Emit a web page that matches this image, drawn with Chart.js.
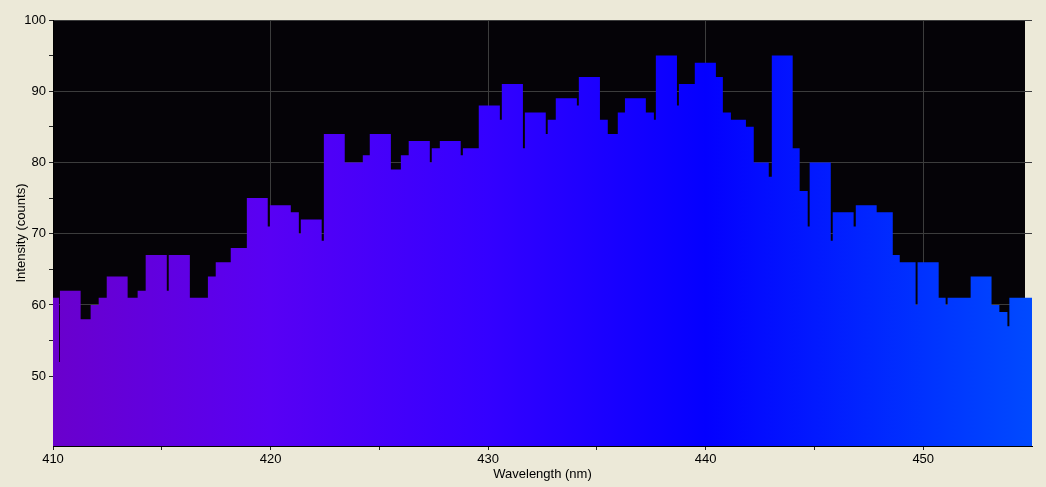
<!DOCTYPE html>
<html>
<head>
<meta charset="utf-8">
<title>Spectrum</title>
<script src="https://cdn.jsdelivr.net/npm/chart.js@4"></script>
<style>
  html, body { margin: 0; padding: 0; background: #ece9d8; }
  #wrap { width: 1046px; height: 487px; position: relative; }
</style>
</head>
<body>
<div id="wrap"><canvas id="spectrum"></canvas></div>
<script>
// step edges (nm) and the count held from each edge to the next
const wavelengths = [410.00,410.28,410.32,411.27,411.73,412.10,412.47,413.43,413.89,414.26,
  415.23,415.32,416.29,417.12,417.48,418.17,418.91,419.87,419.97,420.93,
  421.30,421.39,422.35,422.45,423.41,424.24,424.56,425.53,425.99,426.35,
  427.32,427.41,427.78,428.74,428.84,429.57,430.54,430.63,431.60,431.69,
  432.65,432.74,433.11,434.08,434.17,435.14,435.50,435.96,436.29,437.25,
  437.62,437.71,438.68,438.77,439.50,440.47,440.79,441.16,441.85,442.21,
  442.90,443.04,444.00,444.32,444.69,444.78,445.75,445.84,446.80,446.90,
  447.86,448.60,448.92,449.65,449.74,450.71,451.03,451.12,452.18,453.14,
  453.50,453.87,453.96,455.00];
const counts = [61,52,62,58,60,61,64,61,62,67,
  62,67,61,64,66,68,75,71,74,73,
  70,72,69,84,80,81,84,79,81,83,
  80,82,83,81,82,88,86,91,82,87,
  84,86,89,88,92,86,84,87,89,87,
  86,95,88,91,94,92,87,86,85,80,
  78,95,82,76,71,80,69,73,71,74,
  73,67,66,60,66,61,60,61,64,60,
  59,57,61,61];

const xTicks = [410,415,420,425,430,435,440,445,450];
const yTicks = [50,55,60,65,70,75,80,85,90,95,100];

Chart.defaults.font.family = "'Liberation Sans', Arial, sans-serif";
Chart.defaults.font.size = 13;
Chart.defaults.color = "#000";

// black plot background, stops a few px short of the right edge like the original
const plotBg = {
  id: "plotBg",
  beforeDraw(chart){
    const { ctx, chartArea: a } = chart;
    ctx.save();
    ctx.fillStyle = "#050307";
    ctx.fillRect(a.left, a.top, a.right - a.left - 7, a.bottom - a.top);
    ctx.restore();
  }
};

function spectrumFill(c){
  const { chart } = c;
  const a = chart.chartArea;
  if (!a) return "#3000ff";
  const g = chart.ctx.createLinearGradient(a.left, 0, a.right, 0);
  g.addColorStop(0.000, "rgb(106,0,204)");
  g.addColorStop(0.222, "rgb(88,0,244)");
  g.addColorStop(0.444, "rgb(52,0,255)");
  g.addColorStop(0.667, "rgb(4,0,255)");
  g.addColorStop(0.889, "rgb(0,50,255)");
  g.addColorStop(1.000, "rgb(0,74,255)");
  return g;
}

const points = wavelengths.map((w, i) => ({ x: w, y: counts[i] }));

new Chart(document.getElementById("spectrum"), {
  type: "line",
  data: {
    datasets: [{
      data: points,
      stepped: "before",
      fill: "start",
      backgroundColor: spectrumFill,
      borderColor: "transparent",
      borderWidth: 0,
      pointRadius: 0,
    }]
  },
  options: {
    responsive: true,
    maintainAspectRatio: false,
    animation: false,
    layout: { padding: { top: 20, right: 14, bottom: 0, left: 0 } },
    plugins: { legend: { display: false }, tooltip: { enabled: false } },
    scales: {
      x: {
        type: "linear",
        min: 410,
        max: 455,
        z: 1,
        afterBuildTicks: s => { s.ticks = xTicks.map(v => ({ value: v })); },
        afterFit: s => { s.height = 41; },
        ticks: {
          padding: 2,
          maxRotation: 0,
          callback: v => (v % 10 === 0 ? String(v) : "")
        },
        grid: {
          color: c => (c.tick && c.tick.value % 10 === 0 ? "#3c3c3c" : "transparent"),
          tickColor: "#222",
          tickLength: 4,
        },
        border: { color: "#000" },
        title: { display: true, text: "Wavelength (nm)", padding: { top: 0, bottom: 5 } }
      },
      y: {
        min: 40.2,
        max: 100,
        z: 1,
        afterBuildTicks: s => { s.ticks = yTicks.map(v => ({ value: v })); },
        afterFit: s => { s.width = 53; },
        ticks: {
          padding: 3,
          callback: v => (v % 10 === 0 ? String(v) : "")
        },
        grid: {
          color: c => (c.tick && c.tick.value % 10 === 0 ? "#3c3c3c" : "transparent"),
          tickColor: "#222",
          tickLength: 4,
        },
        border: { color: "#000" },
        title: { display: true, text: "Intensity (counts)", padding: { top: 14, bottom: 0 } }
      }
    }
  },
  plugins: [plotBg]
});
</script>
</body>
</html>
